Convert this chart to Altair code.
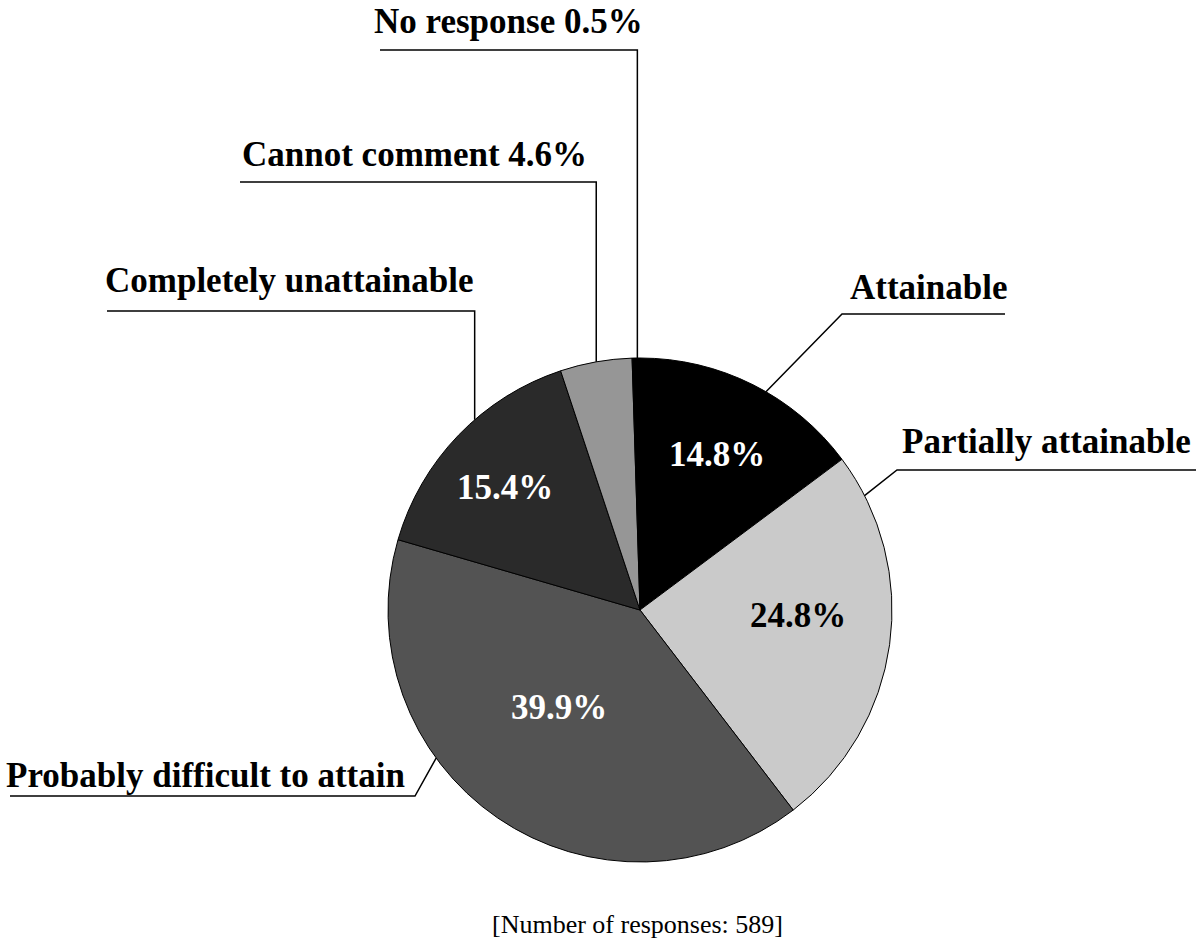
import math
import altair as alt
import pandas as pd

# Survey answers, clockwise from 12 o'clock
categories = [
    "Attainable",
    "Partially attainable",
    "Probably difficult to attain",
    "Completely unattainable",
    "Cannot comment",
    "No response",
]
values = [14.8, 24.8, 39.9, 15.4, 4.6, 0.5]
fills = ["#000000", "#cacaca", "#535353", "#2a2a2a", "#969696", "#000000"]
show_value_in_label = [False, False, False, False, True, True]
inner_label_color = ["white", "black", "white", "white", None, None]
responses = 589

# Layout (pixels)
W, H = 1196, 946
CX, CY, R = 640, 610, 252
leader_angle = [30, 63, 234, -41, -10, -0.6]          # degrees clockwise from top
elbow_x = [842, 897, 415, None, None, None]           # None -> straight vertical leader
line_y = [314, 470, 796, 311, 182, 50]
line_end_x = [1005, 1196, 10, 107, 240, 380]
label_x = [850, 902, 6, 105, 242, 374]
label_y = [299, 453, 787, 292, 166, 33]
inner_x = [717, 798, 559, 505]
inner_y = [455, 616, 708, 488]

pie_df = pd.DataFrame({"category": categories, "value": values, "order": range(len(values))})

line_rows, label_rows = [], []
for i, cat in enumerate(categories):
    a = math.radians(leader_angle[i])
    ex, ey = CX + R * math.sin(a), CY - R * math.cos(a)
    bx = ex if elbow_x[i] is None else elbow_x[i]
    for k, (px, py) in enumerate([(ex, ey), (bx, line_y[i]), (line_end_x[i], line_y[i])]):
        line_rows.append({"category": cat, "k": k, "px": px, "py": py})
    text = f"{cat} {values[i]}%" if show_value_in_label[i] else cat
    label_rows.append({"text": text, "px": label_x[i], "py": label_y[i]})
lines_df = pd.DataFrame(line_rows)
labels_df = pd.DataFrame(label_rows)

inner_rows = []
for i, c in enumerate(inner_label_color):
    if c is None:
        continue
    inner_rows.append({"text": f"{values[i]:.1f}%", "px": inner_x[i], "py": inner_y[i], "color": c})
inner_df = pd.DataFrame(inner_rows)

xs = alt.Scale(domain=[0, W], range=[0, W], nice=False, zero=False)
ys = alt.Scale(domain=[0, H], range=[0, H], nice=False, zero=False)

pie = alt.Chart(pie_df).mark_arc(outerRadius=R, stroke="black", strokeWidth=1).encode(
    theta=alt.Theta("value:Q", stack=True),
    order=alt.Order("order:Q"),
    color=alt.Color("category:N", scale=alt.Scale(domain=categories, range=fills), legend=None),
    x=alt.value(CX),
    y=alt.value(CY),
)

leaders = alt.Chart(lines_df).mark_line(color="black", strokeWidth=1.5).encode(
    x=alt.X("px:Q", scale=xs, axis=None),
    y=alt.Y("py:Q", scale=ys, axis=None),
    detail="category:N",
    order="k:Q",
)

outer = alt.Chart(labels_df).mark_text(
    align="left", baseline="alphabetic", font="Liberation Serif", fontWeight="bold", fontSize=35, color="black"
).encode(
    x=alt.X("px:Q", scale=xs, axis=None),
    y=alt.Y("py:Q", scale=ys, axis=None),
    text="text:N",
)

inner = alt.Chart(inner_df).mark_text(
    align="center", baseline="middle", font="Liberation Serif", fontWeight="bold", fontSize=35
).encode(
    x=alt.X("px:Q", scale=xs, axis=None),
    y=alt.Y("py:Q", scale=ys, axis=None),
    text="text:N",
    color=alt.Color("color:N", scale=None),
)

note_df = pd.DataFrame({"text": [f"[Number of responses: {responses}]"], "px": [492], "py": [933]})
note = alt.Chart(note_df).mark_text(
    align="left", baseline="alphabetic", font="Liberation Serif", fontSize=26, color="black"
).encode(
    x=alt.X("px:Q", scale=xs, axis=None),
    y=alt.Y("py:Q", scale=ys, axis=None),
    text="text:N",
)

chart = (
    alt.layer(pie, leaders, outer, inner, note)
    .properties(width=W, height=H, autosize=alt.AutoSizeParams(type="none"), padding=0, background="white")
    .configure_view(stroke=None)
)

chart.save("out.html", embed_options={"renderer": "svg", "actions": False})
